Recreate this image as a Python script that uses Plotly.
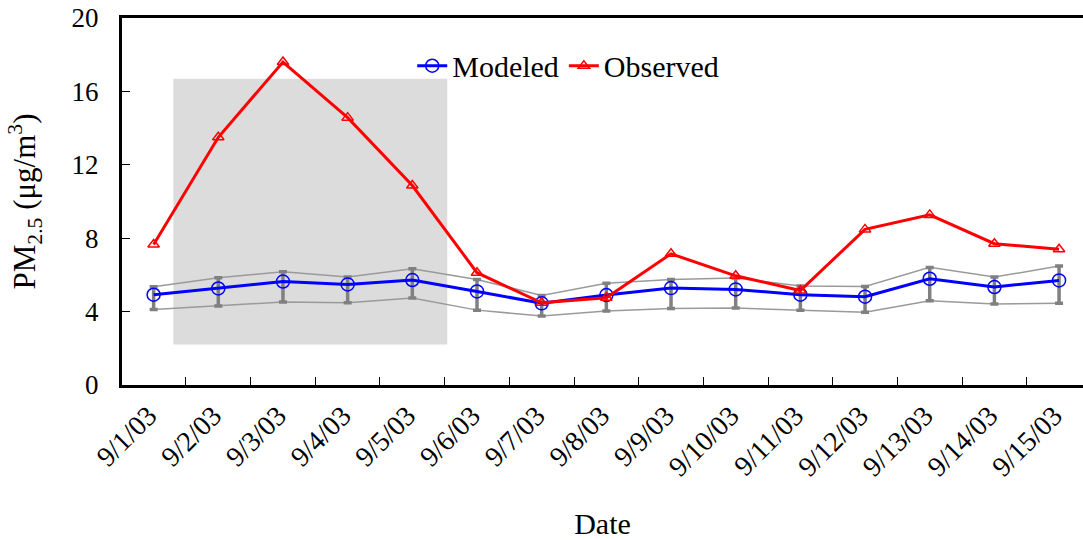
import plotly.graph_objects as go

dates = ["9/1/03", "9/2/03", "9/3/03", "9/4/03", "9/5/03", "9/6/03", "9/7/03", "9/8/03",
         "9/9/03", "9/10/03", "9/11/03", "9/12/03", "9/13/03", "9/14/03", "9/15/03"]
modeled = [4.92, 5.26, 5.64, 5.48, 5.72, 5.10, 4.45, 4.90, 5.28, 5.21, 4.92, 4.81, 5.79, 5.34, 5.70]
observed = [7.66, 13.5, 17.6, 14.57, 10.87, 6.12, 4.48, 4.75, 7.15, 5.95, 5.15, 8.48, 9.27, 7.70, 7.40]
modeled_upper = [5.35, 5.84, 6.17, 5.88, 6.33, 5.75, 4.88, 5.54, 5.75, 5.83, 5.39, 5.37, 6.41, 5.88, 6.48]
modeled_lower = [4.12, 4.30, 4.52, 4.48, 4.74, 4.08, 3.76, 4.03, 4.17, 4.19, 4.07, 3.97, 4.59, 4.41, 4.45]

FONT = "'Liberation Serif', 'DejaVu Serif', serif"

fig = go.Figure()

# shaded period
fig.add_shape(type="rect", xref="x", yref="y", x0=0.305, x1=4.54, y0=2.21, y1=16.69,
              fillcolor="#dcdcdc", line=dict(width=0), layer="below")

fig.add_trace(go.Scatter(x=dates, y=modeled_upper, mode="lines",
                         line=dict(color="#9a9a9a", width=1.5), showlegend=False, hoverinfo="skip"))
fig.add_trace(go.Scatter(x=dates, y=modeled_lower, mode="lines",
                         line=dict(color="#9a9a9a", width=1.5), showlegend=False, hoverinfo="skip"))

fig.add_trace(go.Scatter(
    x=dates, y=modeled, name="Modeled", mode="lines+markers",
    line=dict(color="#0000ff", width=3),
    marker=dict(symbol="circle-open", size=13, color="#0000ff", line=dict(width=1.5)),
    error_y=dict(type="data", symmetric=False,
                 array=[u - m for u, m in zip(modeled_upper, modeled)],
                 arrayminus=[m - l for m, l in zip(modeled, modeled_lower)],
                 color="#808080", thickness=3.5, width=4),
))
fig.add_trace(go.Scatter(
    x=dates, y=observed, name="Observed", mode="lines+markers",
    line=dict(color="#ff0000", width=3),
    marker=dict(symbol="triangle-up-open", size=10, color="#ff0000", line=dict(width=1.5)),
))

fig.update_layout(
    width=1083, height=540,
    margin=dict(l=122, r=0, t=18, b=155, autoexpand=False),
    paper_bgcolor="white", plot_bgcolor="white",
    font=dict(family=FONT, size=27, color="black"),
    showlegend=True,
    legend=dict(orientation="h", x=0.302, xanchor="left", y=0.87, yanchor="middle",
                bgcolor="rgba(0,0,0,0)", font=dict(family=FONT, size=30), itemwidth=30,
                tracegroupgap=0),
    xaxis=dict(
        type="category", range=[-0.489, 14.37],
        showline=True, linewidth=3, linecolor="black", mirror=True,
        ticks="inside", tickson="boundaries", ticklen=8, tickwidth=1, tickcolor="black",
        tickangle=-45, tickfont=dict(family=FONT, size=28), ticklabelshift=-5,
        ticklabeloverflow="allow",
        showgrid=False, zeroline=False,
        title=dict(text="Date", font=dict(family=FONT, size=30), standoff=36),
        automargin=False,
    ),
    yaxis=dict(
        range=[0, 20], tickvals=[0, 4, 8, 12, 16, 20],
        showline=True, linewidth=3, linecolor="black", mirror=False,
        ticks="inside", ticklen=8, tickwidth=1, tickcolor="black",
        ticklabelstandoff=15, tickfont=dict(family=FONT, size=27),
        ticklabeloverflow="allow",
        showgrid=False, zeroline=False,
        title=dict(text="PM<sub>2.5</sub> (μg/m<sup>3</sup>)", font=dict(family=FONT, size=31), standoff=27),
        automargin=False,
    ),
)

fig.write_html("out.html",
               config={"displayModeBar": False},
               post_script="document.body.style.margin='0';document.body.style.padding='0';")
